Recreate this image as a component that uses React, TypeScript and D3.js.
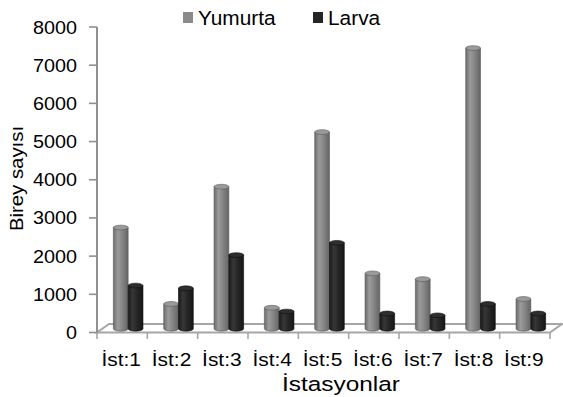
import React from "react";
import * as d3 from "d3";

const categories = ["İst:1", "İst:2", "İst:3", "İst:4", "İst:5", "İst:6", "İst:7", "İst:8", "İst:9"];
const seriesNames = ["Yumurta", "Larva"];
const yumurta = [2650, 650, 3720, 550, 5150, 1450, 1300, 7350, 780];
const larva = [1130, 1060, 1930, 450, 2250, 400, 350, 650, 400];
const yTicks = [0, 1000, 2000, 3000, 4000, 5000, 6000, 7000, 8000];

const W = 563;
const H = 397;
const FONT = "'Liberation Sans', Arial, sans-serif";

// floor depth offset of the pseudo-3D plot area
const DX = 12;
const DY = -8.5;

function Txt({ x, y, size, sx = 1.1, anchor = "start", rotate = 0, children }: any) {
  return (
    <text
      transform={`translate(${x},${y}) rotate(${rotate}) scale(${sx},1)`}
      fontFamily={FONT}
      fontSize={size}
      textAnchor={anchor}
      fill="#000"
    >
      {children}
    </text>
  );
}

export default function App() {
  const x = d3.scaleBand<string>().domain(categories).range([97, 550]).paddingInner(0).paddingOuter(0);
  const inner = d3.scaleBand<string>().domain(seriesNames).range([0, x.bandwidth()]).paddingInner(0).paddingOuter(0.7);
  const y = d3.scaleLinear().domain([0, 8000]).range([332.5, 27]);
  const rows = [yumurta, larva];
  const rx = inner.bandwidth() / 2;
  const ry = 2.4;
  const x0 = 97;
  const x1 = 550;
  const yb = y(0);

  const floor = [
    [x0, yb],
    [x1, yb],
    [x1 + DX, yb + DY],
    [x0 + DX, yb + DY],
  ];

  return (
    <svg width={W} height={H} style={{ position: "absolute", left: 0, top: 0 }}>
      <defs>
        <linearGradient id="g0" x1="0" x2="1" y1="0" y2="0">
          <stop offset="0" stopColor="#6c6c6c" />
          <stop offset="0.3" stopColor="#9b9b9b" />
          <stop offset="0.6" stopColor="#858585" />
          <stop offset="1" stopColor="#646464" />
        </linearGradient>
        <linearGradient id="g1" x1="0" x2="1" y1="0" y2="0">
          <stop offset="0" stopColor="#1a1a1a" />
          <stop offset="0.3" stopColor="#373737" />
          <stop offset="0.6" stopColor="#262626" />
          <stop offset="1" stopColor="#161616" />
        </linearGradient>
      </defs>
      <rect width={W} height={H} fill="#fff" />

      {/* floor */}
      <polygon
        points={floor.map((p) => p.join(",")).join(" ")}
        fill="#fff"
        stroke="#a6a6a6"
        strokeWidth={2}
      />

      {/* x ticks */}
      {d3.range(categories.length + 1).map((i) => {
        const xx = 97 + i * x.step();
        return <line key={i} x1={xx} x2={xx} y1={yb} y2={yb + 6.5} stroke="#a6a6a6" strokeWidth={1.6} />;
      })}

      {/* cylinders */}
      {categories.map((c, i) =>
        rows.map((vals, s) => {
          const cx = (x(c) as number) + (inner(seriesNames[s]) as number) + rx + DX / 2;
          const base = y(0) + DY / 2 + 0.5;
          const top = y(vals[i]) + DY / 2 + 0.5;
          const fill = s === 0 ? "url(#g0)" : "url(#g1)";
          const topFill = s === 0 ? "#9a9a9a" : "#2e2e2e";
          const rim = s === 0 ? "#5a5a5a" : "#0e0e0e";
          return (
            <g key={`${c}-${s}`}>
              <path
                d={`M${cx - rx},${top} L${cx - rx},${base} A${rx},${ry} 0 0 0 ${cx + rx},${base} L${cx + rx},${top} Z`}
                fill={fill}
                stroke={rim}
                strokeWidth={0.6}
              />
              <ellipse cx={cx} cy={top} rx={rx} ry={ry} fill={topFill} stroke={rim} strokeWidth={0.6} />
            </g>
          );
        })
      )}

      {/* y axis */}
      <line x1={x0} x2={x0} y1={y(8000)} y2={yb} stroke="#909090" strokeWidth={2} />
      {yTicks.map((t) => (
        <g key={t}>
          <line x1={89} x2={x0} y1={y(t)} y2={y(t)} stroke="#909090" strokeWidth={1.6} />
          <Txt x={77} y={y(t) + 6.5} size={18} sx={1.1} anchor="end">
            {t}
          </Txt>
        </g>
      ))}

      {/* x labels */}
      {categories.map((c) => (
        <Txt key={c} x={(x(c) as number) + x.bandwidth() / 2 - 1} y={365.5} size={19} sx={1.1} anchor="middle">
          {c}
        </Txt>
      ))}

      {/* axis titles */}
      <Txt x={341} y={391} size={20.5} sx={1.19} anchor="middle">
        İstasyonlar
      </Txt>
      <Txt x={23} y={178.5} size={18.5} sx={1.1} anchor="middle" rotate={-90}>
        Birey sayısı
      </Txt>

      {/* legend */}
      <rect x={183} y={12} width={10} height={11} fill="#8a8a8a" />
      <Txt x={198} y={24.5} size={19.5} sx={1.07}>
        Yumurta
      </Txt>
      <rect x={313} y={12} width={10} height={11} fill="#252525" />
      <Txt x={328} y={24.5} size={19.5} sx={1.07}>
        Larva
      </Txt>
    </svg>
  );
}
